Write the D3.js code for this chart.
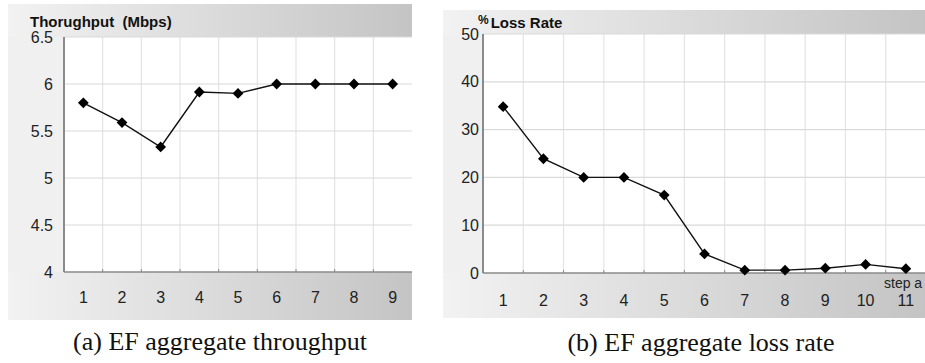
<!DOCTYPE html>
<html><head><meta charset="utf-8">
<script src="https://cdn.jsdelivr.net/npm/d3@7"></script>
<style>html,body{margin:0;padding:0;background:#fff;overflow:hidden}</style>
</head><body>
<script>
// ---- data ----
const stepsA = [1,2,3,4,5,6,7,8,9];
const throughput = [5.80, 5.59, 5.33, 5.915, 5.90, 6.0, 6.0, 6.0, 6.0];
const yTicksA = [4, 4.5, 5, 5.5, 6, 6.5];
const stepsB = [1,2,3,4,5,6,7,8,9,10,11];
const lossRate = [34.8, 23.9, 20.0, 20.0, 16.3, 4.0, 0.6, 0.6, 1.0, 1.8, 0.9];
const yTicksB = [0, 10, 20, 30, 40, 50];

const W = 925, H = 363;
const svg = d3.select("body").append("svg").attr("width", W).attr("height", H);
const defs = svg.append("defs");
const grad = defs.append("linearGradient").attr("id","g1").attr("x1","0").attr("x2","1").attr("y1","0").attr("y2","0");
grad.append("stop").attr("offset","0").attr("stop-color","#f2f2f2");
grad.append("stop").attr("offset","1").attr("stop-color","#c4c4c4");

function panel(cfg){
  const g = svg.append("g");
  g.append("rect").attr("x",cfg.px0).attr("y",cfg.py0).attr("width",cfg.px1-cfg.px0).attr("height",cfg.py1-cfg.py0).attr("fill","#f0f0f0");
  g.append("rect").attr("x",cfg.px0).attr("y",cfg.py0).attr("width",cfg.px1-cfg.px0).attr("height",cfg.top-cfg.py0).attr("fill","url(#g1)");
  g.append("rect").attr("x",cfg.px0).attr("y",cfg.bottom).attr("width",cfg.px1-cfg.px0).attr("height",cfg.py1-cfg.bottom).attr("fill","url(#g1)");
  g.append("rect").attr("x",cfg.left).attr("y",cfg.top).attr("width",cfg.right-cfg.left).attr("height",cfg.bottom-cfg.top).attr("fill","#fff");

  const x = d3.scaleBand().domain(cfg.steps).range([cfg.left, cfg.right]).padding(0);
  const y = d3.scaleLinear().domain(cfg.ydom).range([cfg.bottom, cfg.top]);

  g.append("g").selectAll("line").data(cfg.steps.slice(1)).join("line")
    .attr("x1",d=>x(d)).attr("x2",d=>x(d)).attr("y1",cfg.top).attr("y2",cfg.bottom)
    .attr("stroke","#e4e4e4").attr("stroke-width",1.2);
  g.append("g").selectAll("line").data(cfg.yticks.slice(1)).join("line")
    .attr("x1",cfg.left).attr("x2",cfg.right).attr("y1",d=>y(d)).attr("y2",d=>y(d))
    .attr("stroke","#dadada").attr("stroke-width",1.2);

  g.append("line").attr("x1",cfg.left).attr("x2",cfg.right).attr("y1",cfg.bottom).attr("y2",cfg.bottom).attr("stroke","#8a8a8a").attr("stroke-width",1.5);
  g.append("g").selectAll("line").data(cfg.steps.slice(1)).join("line")
    .attr("x1",d=>x(d)).attr("x2",d=>x(d)).attr("y1",cfg.bottom-3).attr("y2",cfg.bottom)
    .attr("stroke","#8a8a8a").attr("stroke-width",1);
  g.append("line").attr("x1",cfg.left).attr("x2",cfg.left).attr("y1",cfg.top).attr("y2",cfg.bottom).attr("stroke","#8a8a8a").attr("stroke-width",2);

  g.append("g").selectAll("text").data(cfg.yticks).join("text")
    .attr("x",cfg.ylabX).attr("y",d=>y(d)).attr("dy","0.35em").attr("text-anchor","end")
    .attr("font-family","Liberation Sans, Arial, sans-serif").attr("font-size",16).attr("fill","#222")
    .text(d=>d);
  g.append("g").selectAll("text").data(cfg.steps).join("text")
    .attr("x",d=>x(d)+x.bandwidth()/2).attr("y",cfg.xlabY).attr("dy","0.35em").attr("text-anchor","middle")
    .attr("font-family","Liberation Sans, Arial, sans-serif").attr("font-size",16).attr("fill","#222")
    .text(d=>d);

  const line = d3.line().x((d,i)=>x(cfg.steps[i])+x.bandwidth()/2).y(d=>y(d));
  g.append("path").datum(cfg.values).attr("d",line).attr("fill","none").attr("stroke","#111").attr("stroke-width",1.4);
  const sym = d3.symbol().type(d3.symbolSquare).size(58);
  g.append("g").selectAll("path").data(cfg.values).join("path")
    .attr("d",sym)
    .attr("transform",(d,i)=>`translate(${x(cfg.steps[i])+x.bandwidth()/2},${y(d)}) rotate(45)`)
    .attr("fill","#000");

  g.append("text").attr("x",cfg.capX).attr("y",cfg.capY).attr("text-anchor","middle")
    .attr("font-family","Liberation Serif, Times New Roman, serif").attr("font-size",26).attr("fill","#111")
    .text(cfg.caption);
  return {g,x,y};
}

const A = panel({px0:8, px1:412, py0:4, py1:320, left:64, right:412, top:37, bottom:272,
  steps:stepsA, values:throughput, ydom:[4,6.5], yticks:yTicksA, ylabX:53, xlabY:297,
  capX:220, capY:350, caption:"(a) EF aggregate throughput"});
A.g.append("text").attr("x",30).attr("y",27)
  .attr("font-family","Liberation Sans, Arial, sans-serif").attr("font-weight","bold").attr("font-size",15).attr("fill","#111")
  .attr("xml:space","preserve").text("Thorughput  (Mbps)");

const B = panel({px0:443, px1:925, py0:10, py1:318, left:483, right:926, top:34, bottom:273,
  steps:stepsB, values:lossRate, ydom:[0,50], yticks:yTicksB, ylabX:479, xlabY:300,
  capX:701, capY:351, caption:"(b) EF aggregate loss rate"});
const t = B.g.append("text").attr("x",478).attr("y",28)
  .attr("font-family","Liberation Sans, Arial, sans-serif").attr("font-weight","bold").attr("fill","#111");
t.append("tspan").attr("font-size",12).attr("dy",-4).text("%");
t.append("tspan").attr("font-size",15).attr("dy",4).attr("dx",2).text("Loss Rate");
B.g.append("text").attr("x",884).attr("y",288)
  .attr("font-family","Liberation Sans, Arial, sans-serif").attr("font-size",14).attr("fill","#222")
  .text("step a");
</script>
</body></html>
